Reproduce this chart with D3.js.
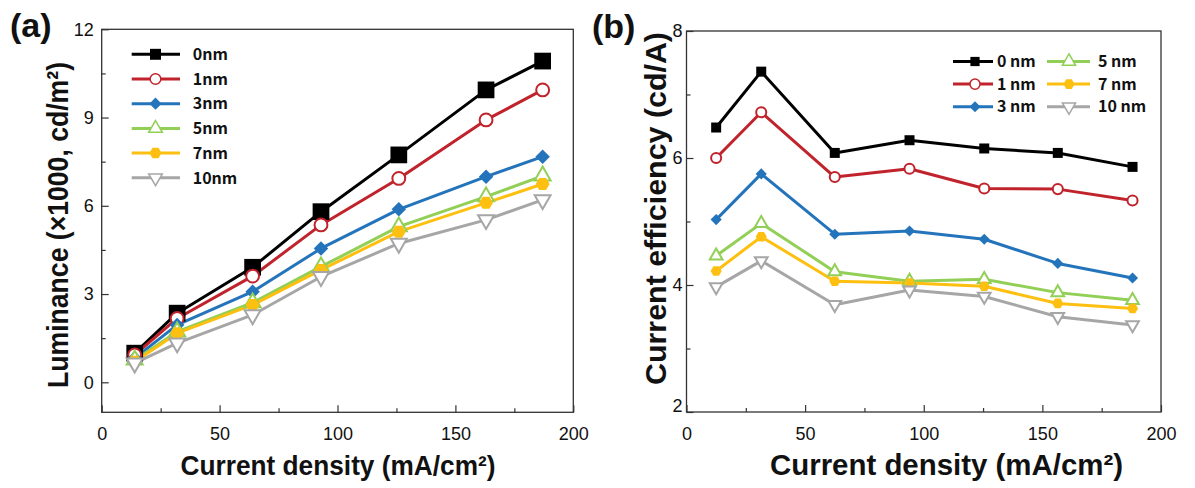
<!DOCTYPE html>
<html>
<head>
<meta charset="utf-8">
<script src="https://cdn.jsdelivr.net/npm/d3@7"></script>
<style>
  body { margin: 0; background: #fff; }
  svg { display: block; }
  .tick text { font-family: "Liberation Sans", Arial, sans-serif; font-size: 18px; fill: #111; }
  .tick line { stroke: #333; stroke-width: 1.2; }
  .title { font-family: "Liberation Sans", Arial, sans-serif; font-weight: bold; fill: #111; }
  .legend text { font-family: "Noto Sans CJK KR", "Noto Sans", sans-serif; font-weight: bold; font-size: 16px; fill: #111; }
</style>
</head>
<body>
<svg id="chart" width="1195" height="488"></svg>
<script>
// x values (current density, mA/cm2)
var xLum = [14, 32, 64, 93, 126, 163, 187];
var xEff = [12.5, 31.5, 62.5, 94, 125.5, 156.5, 188];

// (a) luminance, x1000 cd/m2
var lum0 = [0.99, 2.35, 3.91, 5.80, 7.73, 9.94, 10.92];
var lum1 = [0.93, 2.17, 3.61, 5.35, 6.93, 8.92, 9.94];
var lum3 = [0.82, 1.95, 3.08, 4.55, 5.88, 6.99, 7.67];
var lum5 = [0.76, 1.72, 2.71, 3.93, 5.29, 6.31, 7.02];
var lum7 = [0.70, 1.67, 2.63, 3.82, 5.12, 6.10, 6.74];
var lum10 = [0.65, 1.33, 2.29, 3.59, 4.72, 5.52, 6.20];

// (b) current efficiency, cd/A
var eff0 = [6.48, 7.36, 6.08, 6.28, 6.15, 6.08, 5.86];
var eff1 = [6.00, 6.72, 5.70, 5.83, 5.52, 5.51, 5.33];
var eff3 = [5.03, 5.75, 4.80, 4.85, 4.72, 4.34, 4.11];
var eff5 = [4.46, 4.97, 4.21, 4.06, 4.09, 3.88, 3.76];
var eff7 = [4.22, 4.76, 4.06, 4.03, 3.98, 3.71, 3.63];
var eff10 = [3.97, 4.38, 3.69, 3.92, 3.82, 3.50, 3.37];

var namesA = ['0nm', '1nm', '3nm', '5nm', '7nm', '10nm'];
var namesB = ['0 nm', '1 nm', '3 nm', '5 nm', '7 nm', '10 nm'];

var xTicks = [0, 50, 100, 150, 200];
var xMinor = [25, 75, 125, 175];
var lumTicks = [0, 3, 6, 9, 12];
var lumMinor = [1.5, 4.5, 7.5, 10.5];
var effTicks = [2, 4, 6, 8];
var effMinor = [3, 5, 7];

var colors = ['#000000', '#c0232b', '#2474bb', '#92cf56', '#fdbf10', '#a6a6a6'];
var filled = [true, false, true, false, true, false];

var hexagon = {
  draw: function(ctx, size) {
    var r = Math.sqrt(size / (1.5 * Math.sqrt(3)));
    for (var i = 0; i < 6; i++) {
      var a = i * Math.PI / 3;
      if (i === 0) ctx.moveTo(r * Math.cos(a), r * Math.sin(a));
      else ctx.lineTo(r * Math.cos(a), r * Math.sin(a));
    }
    ctx.closePath();
  }
};
var shapes = [d3.symbolSquare, d3.symbolCircle, d3.symbolSquare, d3.symbolTriangle, hexagon, d3.symbolTriangle];
var rotations = [0, 0, 45, 0, 0, 180];

var svg = d3.select('#chart');

function drawMarker(g, i, x, y, size, sw) {
  g.append('path')
    .attr('d', d3.symbol().type(shapes[i]).size(size)())
    .attr('transform', 'translate(' + x + ',' + y + ') rotate(' + rotations[i] + ')')
    .attr('fill', filled[i] ? colors[i] : '#fff')
    .attr('stroke', colors[i])
    .attr('stroke-width', filled[i] ? 0 : sw);
}

function drawPanel(opts) {
  var x = d3.scaleLinear().domain([0, 200]).range([opts.left, opts.right]);
  var y = d3.scaleLinear().domain(opts.yDomain).range([opts.bottom, opts.top]);
  var g = svg.append('g');

  g.append('rect')
    .attr('x', opts.left).attr('y', opts.top)
    .attr('width', opts.right - opts.left).attr('height', opts.bottom - opts.top)
    .attr('fill', 'none').attr('stroke', '#333').attr('stroke-width', 1.3);

  g.append('g').attr('transform', 'translate(0,' + opts.bottom + ')')
    .call(d3.axisBottom(x).tickValues(xTicks).tickSize(-7).tickPadding(15).tickFormat(d3.format('d')));
  g.append('g').attr('transform', 'translate(0,' + opts.bottom + ')')
    .call(d3.axisBottom(x).tickValues(xMinor).tickSize(-4).tickFormat(''));
  var ya = g.append('g').attr('transform', 'translate(' + opts.left + ',0)')
    .call(d3.axisLeft(y).tickValues(opts.yTicks).tickSize(-7).tickPadding(opts.yPad).tickFormat(d3.format('d')));
  g.append('g').attr('transform', 'translate(' + opts.left + ',0)')
    .call(d3.axisLeft(y).tickValues(opts.yMinor).tickSize(-4).tickFormat(''));
  g.selectAll('.domain').remove();
  if (opts.nudgeFirst) {
    ya.selectAll('.tick text').filter(function(d) { return d === opts.yDomain[0]; }).attr('dy', '-0.05em');
  }

  var line = d3.line()
    .x(function(d, k) { return x(opts.xs[k]); })
    .y(function(d) { return y(d); });

  opts.series.forEach(function(vals, i) {
    g.append('path').datum(vals)
      .attr('d', line)
      .attr('fill', 'none')
      .attr('stroke', colors[i])
      .attr('stroke-width', opts.lw)
      .attr('stroke-linejoin', 'round');
  });
  opts.series.forEach(function(vals, i) {
    vals.forEach(function(v, k) {
      drawMarker(g, i, x(opts.xs[k]), y(v), opts.sizes[i], 2);
    });
  });
  return g;
}

drawPanel({
  left: 101.7, right: 573.3, top: 29.3, bottom: 412.3,
  yDomain: [-1.02, 12], yTicks: lumTicks, yMinor: lumMinor, yPad: 8,
  xs: xLum, series: [lum0, lum1, lum3, lum5, lum7, lum10],
  sizes: [280, 130, 105, 110, 125, 110], lw: 3
});

drawPanel({
  left: 686.5, right: 1161, top: 31, bottom: 412,
  yDomain: [2, 8], yTicks: effTicks, yMinor: effMinor, yPad: 4, nudgeFirst: true,
  xs: xEff, series: [eff0, eff1, eff3, eff5, eff7, eff10],
  sizes: [100, 80, 62, 70, 80, 70], lw: 3
});

// legends
var legA = svg.append('g').attr('class', 'legend');
namesA.forEach(function(name, i) {
  var yy = 54.3 + i * 24.7;
  legA.append('line').attr('x1', 131.7).attr('x2', 180).attr('y1', yy).attr('y2', yy)
    .attr('stroke', colors[i]).attr('stroke-width', 3);
  drawMarker(legA, i, 155.5, yy, [120, 90, 75, 80, 95, 80][i], 1.5);
  legA.append('text').attr('x', 192.7).attr('y', yy).attr('dy', '0.36em').text(name);
});

var legB = svg.append('g').attr('class', 'legend');
namesB.forEach(function(name, i) {
  var col = Math.floor(i / 3), row = i % 3;
  var yy = 61.5 + row * 22.6;
  var x0 = col === 0 ? 953 : 1047, x1 = col === 0 ? 993 : 1090;
  var mx = col === 0 ? 975 : 1069, tx = col === 0 ? 997 : 1098;
  legB.append('line').attr('x1', x0).attr('x2', x1).attr('y1', yy).attr('y2', yy)
    .attr('stroke', colors[i]).attr('stroke-width', 3);
  drawMarker(legB, i, mx, yy, [85, 80, 60, 75, 80, 75][i], 1.5);
  legB.append('text').attr('x', tx).attr('y', yy).attr('dy', '0.36em').text(name);
});

// titles
function title(x, y, rot, fs, len, txt) {
  return svg.append('text').attr('class', 'title')
    .attr('transform', 'translate(' + x + ',' + y + ') rotate(' + rot + ')')
    .attr('text-anchor', 'middle')
    .attr('font-size', fs)
    .attr('textLength', len).attr('lengthAdjust', 'spacingAndGlyphs')
    .text(txt);
}

title(338, 475, 0, 27, 315, 'Current density (mA/cm\u00b2)');
title(946.5, 475, 0, 29, 353, 'Current density (mA/cm\u00b2)');
title(68, 225, -90, 30, 326, 'Luminance (\u00d71000, cd/m\u00b2)');
title(666, 208.5, -90, 30, 353, 'Current efficiency (cd/A)');

svg.append('text').attr('class', 'title').attr('x', 10).attr('y', 37).attr('font-size', 34).text('(a)');
svg.append('text').attr('class', 'title').attr('x', 592).attr('y', 38).attr('font-size', 34).text('(b)');
</script>
</body>
</html>
